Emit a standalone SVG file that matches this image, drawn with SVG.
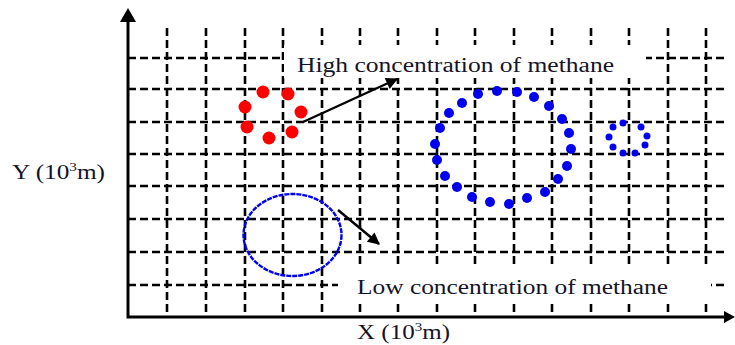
<svg xmlns="http://www.w3.org/2000/svg" width="735" height="345" viewBox="0 0 735 345">
<defs>
<style>
.g{stroke:#000;stroke-width:2.6;stroke-dasharray:8 4;fill:none}
.ax{stroke:#000;stroke-width:3;fill:none}
.lbl{font-family:"Liberation Serif","Times New Roman",serif;fill:#141428;font-size:20px}
.red{fill:#f00}
.blu{fill:#0000ee}
.arr{stroke:#000;stroke-width:2.4;fill:none}
</style>
<marker id="ah" viewBox="0 0 10 10" refX="9" refY="5" markerWidth="14" markerHeight="12" markerUnits="userSpaceOnUse" orient="auto">
<path d="M0,0 L10,5 L0,10 z" fill="#000"/>
</marker>
</defs>
<rect width="735" height="345" fill="#fff"/>
<g id="grid">
<path class="g" d="M167,28V317M206,28V317M245,28V317M283,28V317M322,28V317M360,28V317M398,28V317M437,28V317M475,28V317M514,28V317M552,28V317M591,28V317M629,28V317M668,28V317M706,28V317"/>
<path class="g" d="M128,58H727M128,89H727M128,122H727M128,154H727M128,186H727M128,219H727M128,252H727M128,285H727"/>
<rect x="284" y="45" width="362" height="33" fill="#fff"/>
<rect x="338" y="267" width="373" height="35" fill="#fff"/>
</g>
<g id="axes">
<path class="ax" d="M128,317V20M126.5,317H727"/>
<path d="M128,8L136,22H120z" fill="#000"/>
<path d="M735,317L724,311V323z" fill="#000"/>
</g>
<g id="high-concentration-red">
<circle class="red" cx="263" cy="92" r="6.5"/>
<circle class="red" cx="288" cy="94" r="6.5"/>
<circle class="red" cx="245" cy="107" r="6.5"/>
<circle class="red" cx="301" cy="112" r="6.5"/>
<circle class="red" cx="247" cy="127" r="6.5"/>
<circle class="red" cx="292" cy="132" r="6.5"/>
<circle class="red" cx="269" cy="138" r="6.5"/>
</g>
<g id="high-concentration-blue">
<circle class="blu" cx="497" cy="91" r="5"/>
<circle class="blu" cx="517" cy="92" r="5"/>
<circle class="blu" cx="534" cy="97" r="5"/>
<circle class="blu" cx="549" cy="106" r="5"/>
<circle class="blu" cx="562" cy="119" r="5"/>
<circle class="blu" cx="569" cy="133" r="5"/>
<circle class="blu" cx="571" cy="149" r="5"/>
<circle class="blu" cx="567" cy="166" r="5"/>
<circle class="blu" cx="558" cy="179" r="5"/>
<circle class="blu" cx="545" cy="192" r="5"/>
<circle class="blu" cx="527" cy="198" r="5"/>
<circle class="blu" cx="509" cy="204" r="5"/>
<circle class="blu" cx="490" cy="202" r="5"/>
<circle class="blu" cx="472" cy="197" r="5"/>
<circle class="blu" cx="457" cy="187" r="5"/>
<circle class="blu" cx="445" cy="176" r="5"/>
<circle class="blu" cx="437" cy="160" r="5"/>
<circle class="blu" cx="435" cy="144" r="5"/>
<circle class="blu" cx="440" cy="128" r="5"/>
<circle class="blu" cx="449" cy="113" r="5"/>
<circle class="blu" cx="462" cy="103" r="5"/>
<circle class="blu" cx="478" cy="94" r="5"/>
</g>
<g id="small-blue">
<circle class="blu" cx="623" cy="123" r="3.5"/>
<circle class="blu" cx="641" cy="127" r="3.5"/>
<circle class="blu" cx="647" cy="136" r="3.5"/>
<circle class="blu" cx="645" cy="145" r="3.5"/>
<circle class="blu" cx="635" cy="153" r="3.5"/>
<circle class="blu" cx="623" cy="153" r="3.5"/>
<circle class="blu" cx="613" cy="147" r="3.5"/>
<circle class="blu" cx="609" cy="137" r="3.5"/>
<circle class="blu" cx="613" cy="127" r="3.5"/>
</g>
<g id="low-concentration">
<ellipse cx="292.5" cy="235" rx="49" ry="41" fill="none" stroke="#0000ee" stroke-width="2.4" stroke-dasharray="5 1"/>
</g>
<g id="connectors">
<path class="arr" d="M303,122L397,79" marker-end="url(#ah)"/>
<path class="arr" d="M338,210L379,244" marker-end="url(#ah)"/>
</g>
<g id="labels">
<text class="lbl" x="297" y="72" textLength="317" lengthAdjust="spacingAndGlyphs">High concentration of methane</text>
<text class="lbl" x="357" y="294" textLength="311" lengthAdjust="spacingAndGlyphs">Low concentration of methane</text>
<text class="lbl" x="12" y="179" textLength="93" lengthAdjust="spacingAndGlyphs">Y (10<tspan font-size="12" dy="-8">3</tspan><tspan dy="8">m)</tspan></text>
<text class="lbl" x="357" y="339" textLength="93" lengthAdjust="spacingAndGlyphs">X (10<tspan font-size="12" dy="-8">3</tspan><tspan dy="8">m)</tspan></text>
</g>
</svg>
